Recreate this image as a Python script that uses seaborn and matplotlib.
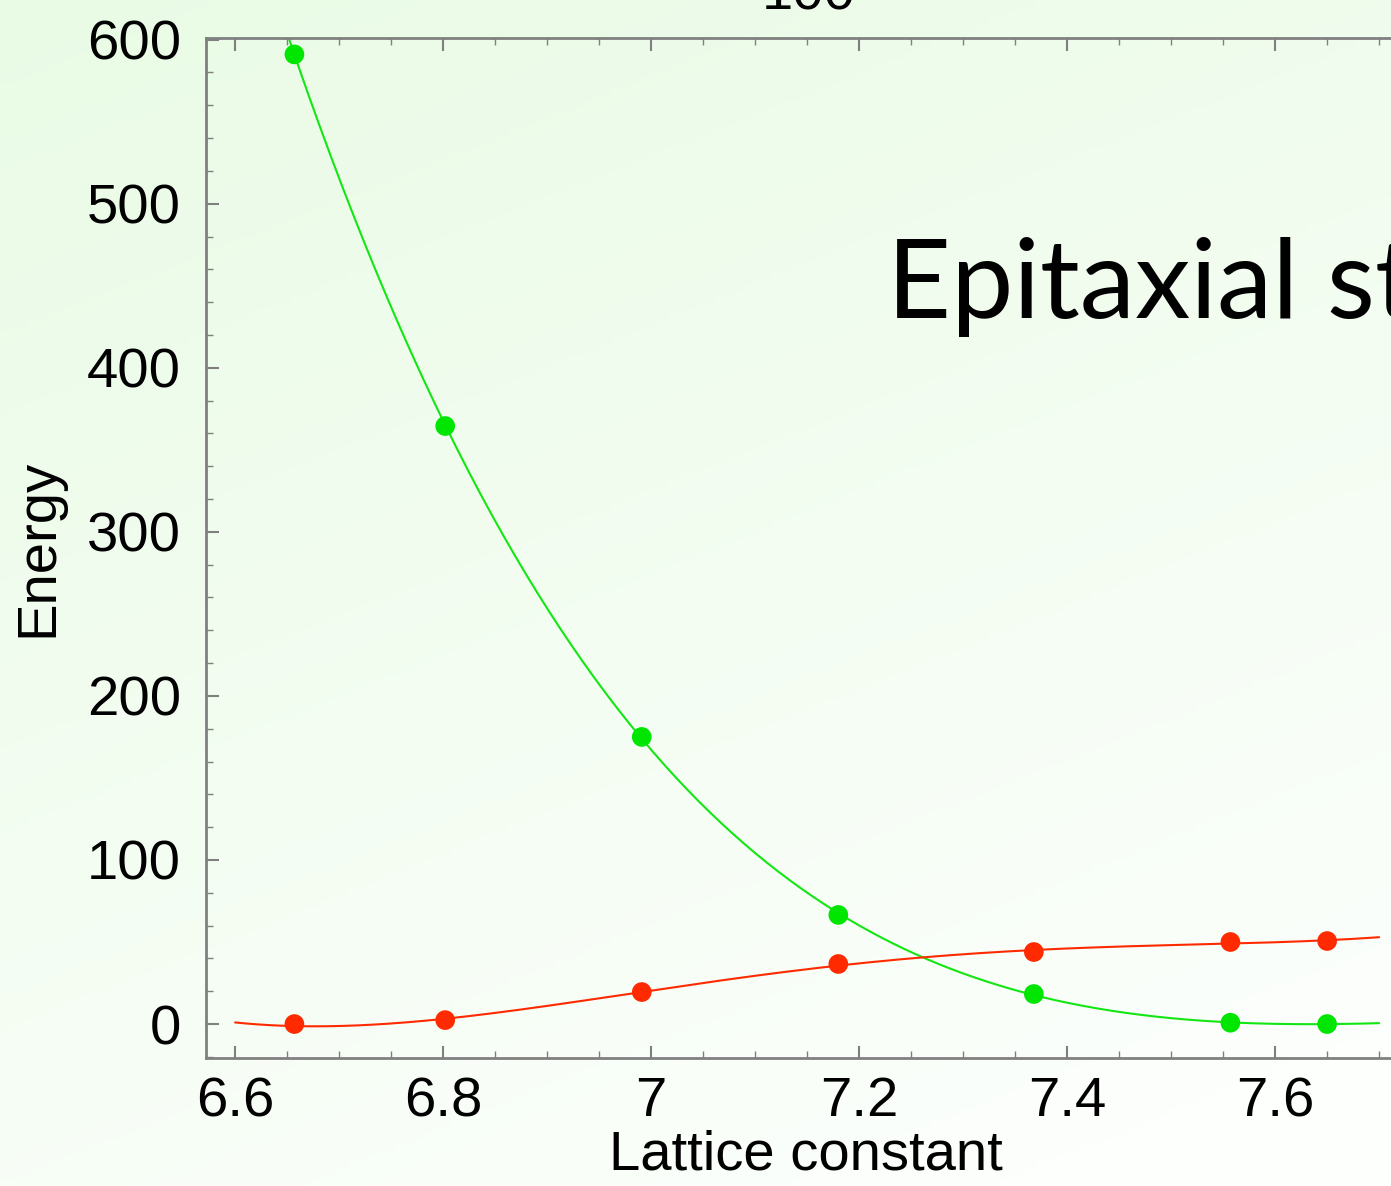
import numpy as np
import pandas as pd
import matplotlib
matplotlib.use("Agg")
import matplotlib.pyplot as plt
from matplotlib.ticker import MultipleLocator, FixedLocator
import seaborn as sns

# ---- data ----
lattice = [6.657, 6.802, 6.991, 7.180, 7.368, 7.557, 7.650]
energy_green = [591.0, 364.5, 175.0, 66.5, 18.3, 0.8, 0.0]
energy_red = [0.0, 2.4, 19.5, 36.6, 43.9, 50.0, 50.6]
# ends of the drawn red fit curve
red_curve_end_x = [6.6, 7.7]
red_curve_end_y = [0.3, 53.0]
x_ticks = [6.6, 6.8, 7.0, 7.2, 7.4, 7.6]
x_tick_labels = ["6.6", "6.8", "7", "7.2", "7.4", "7.6"]
y_ticks = [0, 100, 200, 300, 400, 500, 600]
xlabel = "Lattice constant"
ylabel = "Energy"
slide_text = "Epitaxial strain"
top_text = "100"

sns.set_theme(style="ticks")
plt.rcParams["font.family"] = ["Liberation Sans", "DejaVu Sans"]
plt.rcParams["text.color"] = "black"
plt.rcParams["axes.labelcolor"] = "black"

W, H = 1391, 1186
fig = plt.figure(figsize=(W / 100, H / 100), dpi=100)

# background gradient
bg = fig.add_axes([0, 0, 1, 1], zorder=-10)
yy, xx = np.mgrid[0:1:200j, 0:1:200j]
t = np.clip(0.75 * yy + 0.35 * xx, 0, 1)
c0 = np.array([233, 251, 229]) / 255.0
c1 = np.array([252, 255, 252]) / 255.0
img = c0[None, None, :] * (1 - t[..., None]) + c1[None, None, :] * t[..., None]
bg.imshow(img, aspect="auto", extent=[0, 1, 0, 1], origin="upper")
bg.axis("off")

# axes geometry (pixels)
xmin, xmax = 6.572, 7.726
px_per_x = 1040.0
left_px, top_px, bottom_px = 206, 38, 1058
ax_w = (xmax - xmin) * px_per_x
ax = fig.add_axes([left_px / W, 1 - bottom_px / H, ax_w / W, (bottom_px - top_px) / H])
ax.patch.set_alpha(0)

# smooth curves fitted through the points
xs = np.linspace(6.6, 7.7, 300)
pg = np.polyfit(lattice, energy_green, 4)
pr = np.polyfit(lattice + red_curve_end_x, energy_red + red_curve_end_y, 4)
curves = pd.DataFrame({"x": np.concatenate([xs, xs]),
                       "y": np.concatenate([np.polyval(pg, xs), np.polyval(pr, xs)]),
                       "s": ["g"] * len(xs) + ["r"] * len(xs)})
pts = pd.DataFrame({"x": lattice + lattice,
                    "y": energy_green + energy_red,
                    "s": ["g"] * len(lattice) + ["r"] * len(lattice)})
pal = {"g": "#14e614", "r": "#ff2a00"}
sns.lineplot(data=curves, x="x", y="y", hue="s", palette=pal, linewidth=1.5,
             legend=False, ax=ax, sort=False, estimator=None)
sns.scatterplot(data=pts, x="x", y="y", hue="s", palette={"g": "#00e600", "r": "#ff2a00"},
                s=200, linewidth=0, legend=False, ax=ax, zorder=5)

ax.set_xlim(xmin, xmax)
ax.set_ylim(-20.7, 601)
ax.xaxis.set_major_locator(FixedLocator(x_ticks))
ax.set_xticklabels(x_tick_labels)
ax.xaxis.set_minor_locator(MultipleLocator(0.05))
ax.set_yticks(y_ticks)
ax.yaxis.set_minor_locator(MultipleLocator(20))
FS = 40.5
ax.tick_params(which="both", direction="in", colors="#7f7f7f", labelcolor="black",
               labelsize=FS, top=True, right=True)
ax.tick_params(which="major", length=9, width=1.5)
ax.tick_params(which="minor", length=5, width=1.0)
ax.tick_params(axis="y", pad=18)
ax.tick_params(axis="x", pad=13)
for sp in ax.spines.values():
    sp.set_color("#808080")
    sp.set_linewidth(2)

ax.set_xlabel(xlabel, fontsize=FS, color="black")
ax.xaxis.label.set_va("baseline")
ax.xaxis.set_label_coords(0.5, (bottom_px - 1170) / (bottom_px - top_px))
ax.set_ylabel(ylabel, fontsize=FS, color="black")
ax.yaxis.set_label_coords((64 - left_px) / ax_w, 0.5)

fig.text(887 / W, 1 - 318 / H, slide_text, fontsize=80, family=["Lato", "DejaVu Sans"],
         ha="left", va="baseline", color="black")
fig.text(809 / W, 1 - 9 / H, top_text, fontsize=FS, ha="center", va="baseline", color="black")

fig.savefig("out.png", dpi=100)
